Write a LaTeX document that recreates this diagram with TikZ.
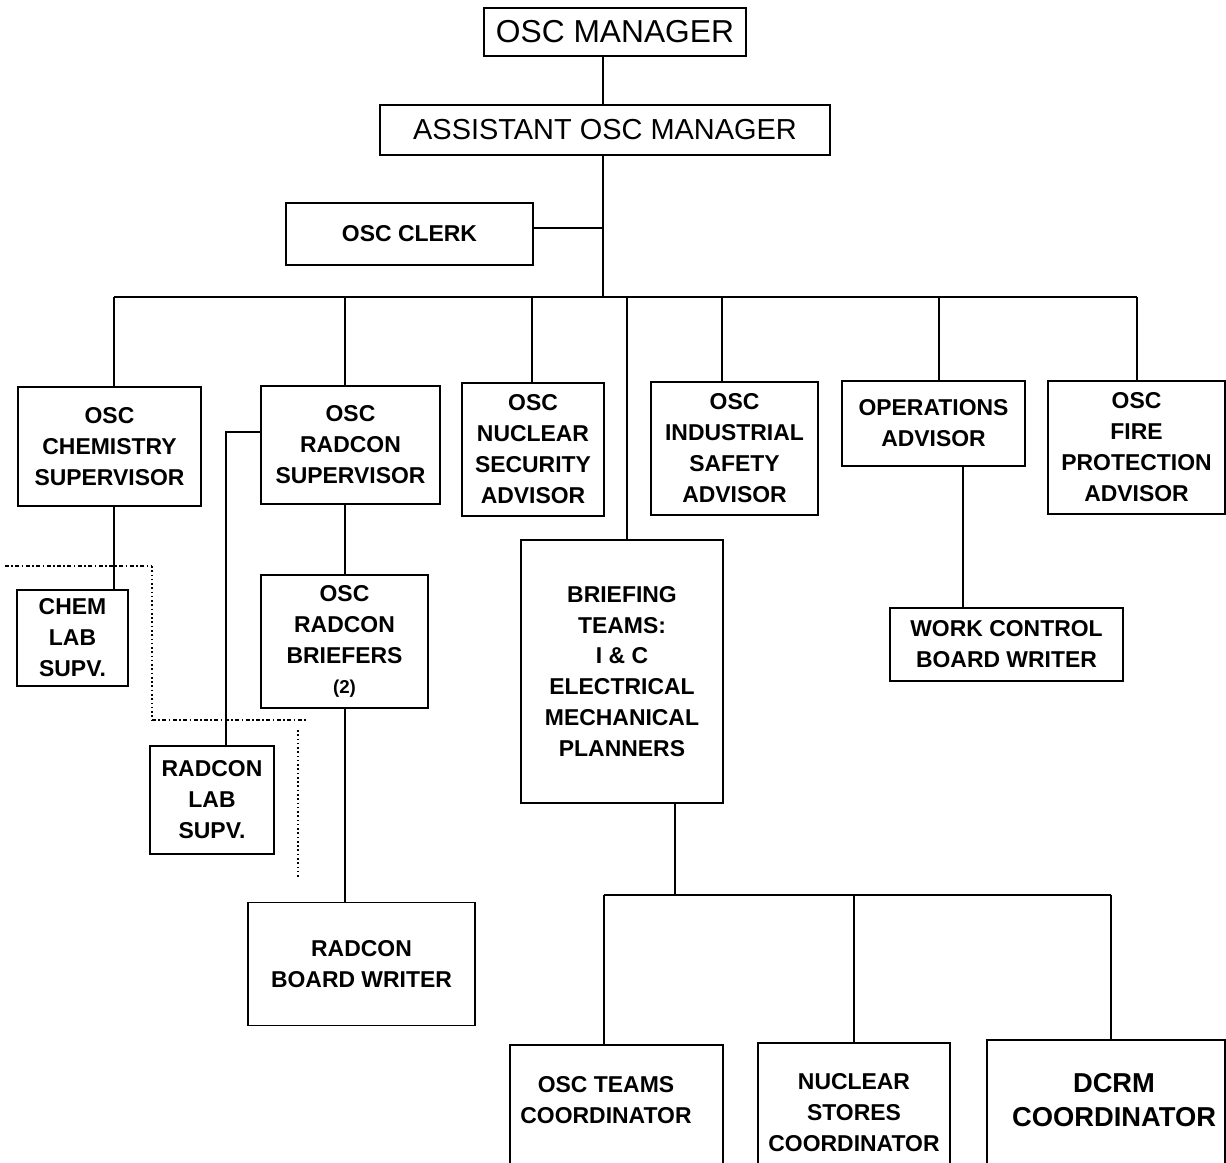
\documentclass[tikz,border=0pt]{standalone}
\usepackage{fontspec}
\setmainfont{Liberation Sans}
\begin{document}
\begin{tikzpicture}[x=0.75pt,y=-0.75pt,
  every node/.style={font=\bfseries\fontsize{17.2}{23.2}\selectfont},
  box/.style={draw, line width=1.3pt, align=center, inner sep=0pt},
  sz/.style 2 args={minimum width=#1*0.75pt, minimum height=#2*0.75pt},
  con/.style={line width=1.3pt},
  dot/.style={line width=1.5pt, dash pattern=on 3pt off 1.8pt on 1.2pt off 1.8pt},
  dotv/.style={line width=1.5pt, dash pattern=on 1.2pt off 2pt}]
\useasboundingbox (0,0) rectangle (1226,1162);
\clip (-2,-2) rectangle (1228,1162);
% top
\node[box, sz={262}{48}, font=\fontsize{23.8}{28}\selectfont] (mgr) at (615,32) {OSC MANAGER};
\node[box, sz={450}{50}, font=\fontsize{21.7}{26}\selectfont] (asst) at (605,130) {ASSISTANT OSC MANAGER};
\node[box, sz={247}{62}] (clerk) at (409.5,234) {OSC CLERK};
% second row
\node[box, sz={183}{119}] (chem) at (109.5,446.5) {OSC\\CHEMISTRY\\SUPERVISOR};
\node[box, sz={179}{118}] (radsup) at (350.5,445) {OSC\\RADCON\\SUPERVISOR};
\node[box, sz={142}{133}] (sec) at (533,449.5) {OSC\\NUCLEAR\\SECURITY\\ADVISOR};
\node[box, sz={167}{133}] (ind) at (734.5,448.5) {OSC\\INDUSTRIAL\\SAFETY\\ADVISOR};
\node[box, sz={183}{85}] (ops) at (933.5,423.5) {OPERATIONS\\ADVISOR};
\node[box, sz={177}{133}] (fire) at (1136.5,447.5) {OSC\\FIRE\\PROTECTION\\ADVISOR};
% lower
\node[box, sz={202}{263}] (brief) at (622,671.5) {BRIEFING\\TEAMS:\\I \& C\\ELECTRICAL\\MECHANICAL\\PLANNERS};
\node[box, sz={233}{73}] (wcb) at (1006.5,644.5) {WORK CONTROL\\BOARD WRITER};
\node[box, sz={111}{96}] (chemlab) at (72.5,638) {CHEM\\LAB\\SUPV.};
\node[box, sz={124}{108}] (radlab) at (212,800) {RADCON\\LAB\\SUPV.};
\node[box, sz={167}{133}] (brfrs) at (344.5,641.5) {OSC\\RADCON\\BRIEFERS\\{\fontsize{14}{23.2}\selectfont(2)}};
\node[box, sz={227}{123}] (rbw) at (361.5,964) {RADCON\\BOARD WRITER};
% bottom (cut off by the page edge)
\node[box, sz={213}{135}] (teams) at (616.5,1112.5) {};
\node[align=center] (teamsT) at (606,1100) {OSC TEAMS\\COORDINATOR};
\node[box, sz={192}{137}] (nst) at (854,1111.5) {};
\node[align=center] (nstT) at (854,1113) {NUCLEAR\\STORES\\COORDINATOR};
\node[box, sz={238}{140}] (dcrm) at (1106,1110) {};
\node[align=center, font=\bfseries\fontsize{20.5}{25.5}\selectfont] (dcrmT) at (1114,1100) {DCRM\\COORDINATOR};
% trunk
\coordinate (t0) at (603,297);
\draw[con] (mgr.south -| t0) -- (asst.north -| t0);
\draw[con] (asst.south -| t0) -- (t0);
\coordinate (c0) at (603,228);
\draw[con] (clerk.east |- c0) -- (c0);
% main bus
\coordinate (d1) at (114,297);
\coordinate (d2) at (345,297);
\coordinate (d3) at (532,297);
\coordinate (d4) at (627,297);
\coordinate (d5) at (722,297);
\coordinate (d6) at (939,297);
\coordinate (d7) at (1137,297);
\draw[con] (d1) -- (d7);
\draw[con] (d1) -- (d1 |- chem.north);
\draw[con] (d2) -- (d2 |- radsup.north);
\draw[con] (d3) -- (d3 |- sec.north);
\draw[con] (d4) -- (d4 |- brief.north);
\draw[con] (d5) -- (d5 |- ind.north);
\draw[con] (d6) -- (d6 |- ops.north);
\draw[con] (d7) -- (d7 |- fire.north);
% sub links
\draw[con] (d1 |- chem.south) -- (d1 |- chemlab.north);
\coordinate (r1) at (226,432);
\draw[con] (radsup.west |- r1) -- (r1) -- (r1 |- radlab.north);
\draw[con] (d2 |- radsup.south) -- (d2 |- brfrs.north);
\draw[con] (d2 |- brfrs.south) -- (d2 |- rbw.north);
\coordinate (o1) at (963,0);
\draw[con] (o1 |- ops.south) -- (o1 |- wcb.north);
% briefing bus
\coordinate (b2) at (675,895);
\coordinate (bl) at (604,895);
\coordinate (bm) at (854,895);
\coordinate (br) at (1111,895);
\draw[con] (b2 |- brief.south) -- (b2);
\draw[con] (bl) -- (br);
\draw[con] (bl) -- (bl |- teams.north);
\draw[con] (bm) -- (bm |- nst.north);
\draw[con] (br) -- (br |- dcrm.north);
% dotted lines
\coordinate (p0) at (5,566);
\coordinate (p1) at (152,566);
\coordinate (p2) at (152,720);
\coordinate (p3) at (307,720);
\coordinate (q0) at (298,730);
\coordinate (q1) at (298,878);
\draw[dot] (p0) -- (p1);
\draw[dotv] (p1) -- (p2);
\draw[dot] (p2) -- (p3);
\draw[dotv] (q0) -- (q1);
\end{tikzpicture}
\end{document}
